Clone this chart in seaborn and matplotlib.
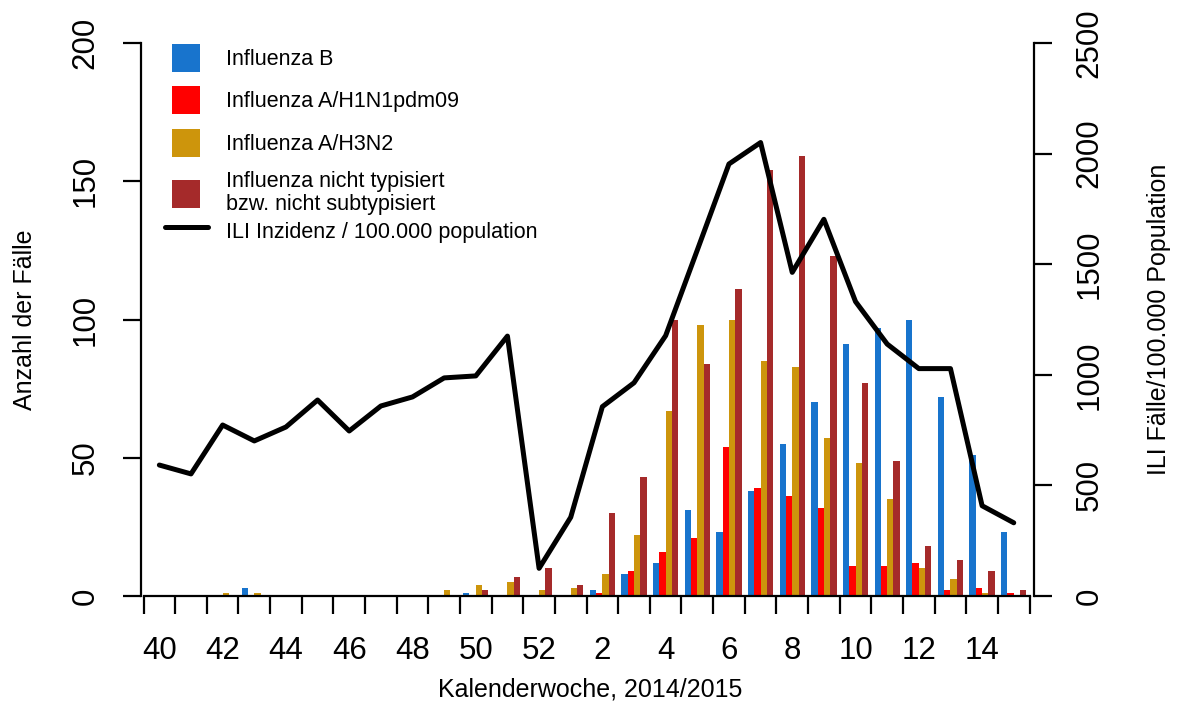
import numpy as np
import pandas as pd
import matplotlib
matplotlib.use("Agg")
import matplotlib.pyplot as plt
import seaborn as sns
from matplotlib.patches import Patch, Rectangle
from matplotlib.lines import Line2D
from matplotlib.legend_handler import HandlerPatch

# ---------------- data ----------------
weeks = [40, 41, 42, 43, 44, 45, 46, 47, 48, 49, 50, 51, 52,
         1, 2, 3, 4, 5, 6, 7, 8, 9, 10, 11, 12, 13, 14, 15]
influenza_b = [0, 0, 0, 3, 0, 0, 0, 0, 0, 0, 1, 0, 0,
               0, 2, 8, 12, 31, 23, 38, 55, 70, 91, 97, 100, 72, 51, 23]
influenza_h1n1 = [0, 0, 0, 0, 0, 0, 0, 0, 0, 0, 0, 0, 0,
                  0, 1, 9, 16, 21, 54, 39, 36, 32, 11, 11, 12, 2, 3, 1]
influenza_h3n2 = [0, 0, 1, 1, 0, 0, 0, 0, 0, 2, 4, 5, 2,
                  3, 8, 22, 67, 98, 100, 85, 83, 57, 48, 35, 10, 6, 1, 0]
influenza_nt = [0, 0, 0, 0, 0, 0, 0, 0, 0, 0, 2, 7, 10,
                4, 30, 43, 100, 84, 111, 154, 159, 123, 77, 49, 18, 13, 9, 2]
ili_incidence = [592, 552, 773, 701, 764, 886, 746, 859, 900, 986, 995, 1175, 125,
                 356, 856, 964, 1177, 1564, 1953, 2050, 1463, 1703, 1331, 1139, 1028, 1028, 408, 331]

type_labels = ["Influenza B", "Influenza A/H1N1pdm09", "Influenza A/H3N2",
               "Influenza nicht typisiert\nbzw. nicht subtypisiert"]
type_colors = ["#1874CD", "#FF0000", "#CD950C", "#A52A2A"]
ili_label = "ILI Inzidenz / 100.000 population"

# ---------------- style ----------------
sns.set_style("white")
plt.rcParams["font.family"] = ["Liberation Sans", "DejaVu Sans"]
plt.rcParams["axes.linewidth"] = 1.6
for k in ["text.color", "axes.labelcolor", "xtick.color", "ytick.color", "axes.edgecolor"]:
    plt.rcParams[k] = "black"

week_str = [str(w) for w in weeks]
df = pd.DataFrame({
    "week": week_str * 4,
    "type": sum([[t] * len(weeks) for t in type_labels], []),
    "count": influenza_b + influenza_h1n1 + influenza_h3n2 + influenza_nt,
})

W, H = 1177, 703
fig = plt.figure(figsize=(W / 100, H / 100), dpi=100)
ax_left, ax_right, ax_top, ax_bottom = 141, 1034, 43, 596
ax = fig.add_axes([ax_left / W, 1 - ax_bottom / H, (ax_right - ax_left) / W, (ax_bottom - ax_top) / H])

sns.barplot(data=df, x="week", y="count", hue="type", order=week_str,
            hue_order=type_labels, palette=dict(zip(type_labels, type_colors)),
            saturation=1, width=0.8, gap=0, errorbar=None, legend=False, ax=ax,
            linewidth=0)

ax2 = ax.twinx()
pos = np.arange(len(weeks))
sns.lineplot(x=pos, y=ili_incidence, color="black", lw=3.6, ax=ax2)

# ---------------- axes ----------------
ax.set_xlim(-0.58, 27.64)
ax.set_ylim(0, 200)
ax2.set_ylim(0, 2500)

ax.spines["top"].set_visible(False)
ax.spines["right"].set_visible(False)
ax2.spines["top"].set_visible(False)
ax2.spines["left"].set_visible(False)
ax2.spines["bottom"].set_visible(False)
ax.spines["bottom"].set_bounds(-0.5, len(weeks) - 0.5)
ax.spines["left"].set_bounds(0, 200)
ax2.spines["right"].set_bounds(0, 2500)
for s in ["bottom", "left"]:
    ax.spines[s].set_linewidth(1.6)
ax2.spines["right"].set_linewidth(1.6)

tick_len = 13
fs_tick = 22.5
ax.set_xticks(np.arange(-0.5, len(weeks), 1.0))
ax.set_xticklabels([])
ax.set_xticks(pos[::2], minor=True)
ax.set_xticklabels(week_str[::2], minor=True)
ax.tick_params(axis="x", which="major", bottom=True, length=tick_len, width=1.6,
               direction="out", color="black")
ax.tick_params(axis="x", which="minor", bottom=True, length=0, pad=29,
               labelsize=fs_tick, labelcolor="black")

ax.set_yticks([0, 50, 100, 150, 200])
ax.tick_params(axis="y", left=True, length=tick_len, width=1.6, pad=16, labelsize=fs_tick,
               direction="out", color="black", labelcolor="black")
for lbl in ax.get_yticklabels():
    lbl.set_rotation(90)
    lbl.set_va("center")

ax2.set_yticks([0, 500, 1000, 1500, 2000, 2500])
ax2.tick_params(axis="y", right=True, length=tick_len, width=1.6, pad=16, labelsize=fs_tick,
                direction="out", color="black", labelcolor="black")
for lbl in ax2.get_yticklabels():
    lbl.set_rotation(90)
    lbl.set_va("center")

ax.set_xlabel("Kalenderwoche, 2014/2015", fontsize=18, color="black")
ax.set_ylabel("Anzahl der Fälle", fontsize=18, color="black")
ax2.set_ylabel("ILI Fälle/100.000 Population", fontsize=18, color="black")
axw = ax_right - ax_left
axh = ax_bottom - ax_top
ax.xaxis.set_label_coords((590 - ax_left) / axw, (ax_bottom - 678) / axh)
ax.yaxis.set_label_coords((37 - ax_left) / axw, 0.5)
ax2.yaxis.set_label_coords((1147 - ax_left) / axw, 0.5)
ax2.set_xlabel("")

# ---------------- legend ----------------
def square_patch(legend, orig_handle, xdescent, ydescent, width, height, fontsize):
    side = height
    return Rectangle((-xdescent + (width - side) / 2, -ydescent), side, height)

leg_kw = dict(frameon=False, fontsize=15.5, handlelength=2.0, handleheight=1.63,
              handletextpad=0.84, labelspacing=0.67, borderaxespad=0,
              bbox_transform=fig.transFigure)

patch_handles = [Patch(facecolor=c, edgecolor="none") for c in type_colors]
leg1 = ax2.legend(patch_handles, type_labels, loc="upper left",
                  bbox_to_anchor=(156 / W, 1 - 35 / H),
                  handler_map={Patch: HandlerPatch(patch_func=square_patch)}, **leg_kw)
for t in leg1.get_texts():
    t.set_linespacing(1.12)
    t.set_color("black")
ax2.add_artist(leg1)

leg2 = ax2.legend([Line2D([], [], color="black", lw=3.6)], [ili_label], loc="center left",
                  bbox_to_anchor=(156 / W, 1 - 231 / H), **leg_kw)
for t in leg2.get_texts():
    t.set_color("black")

fig.savefig("out.png", dpi=100)
